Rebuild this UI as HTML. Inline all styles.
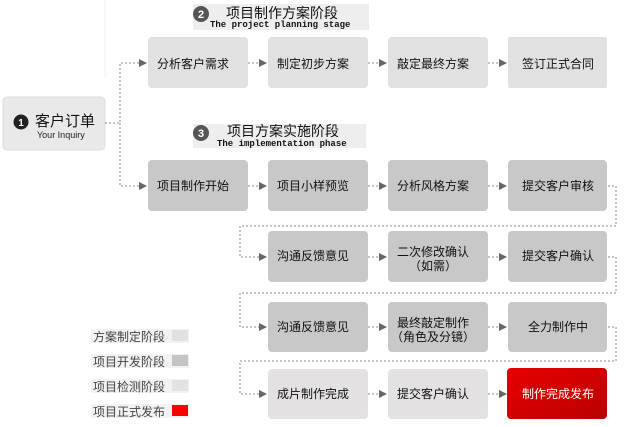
<!DOCTYPE html>
<html><head><meta charset="utf-8"><style>
html,body{margin:0;padding:0;background:#fff;width:627px;height:427px;overflow:hidden}
svg text{font-family:"Liberation Sans","Noto Sans CJK SC",sans-serif}
.m{font-family:"Liberation Mono",monospace}
</style></head><body>
<svg width="627" height="427" viewBox="0 0 627 427" xmlns="http://www.w3.org/2000/svg">
<defs>
<linearGradient id="r" x1="0" x2="1" y1="0" y2="1"><stop offset="0" stop-color="#e80000"/><stop offset="1" stop-color="#bb0000"/></linearGradient>
<marker id="a" markerWidth="8" markerHeight="8" refX="7" refY="4" orient="auto" markerUnits="userSpaceOnUse"><path d="M0,0 L8,4 L0,8z" fill="#666"/></marker>
</defs>
<line x1="105" y1="0" x2="105" y2="78" stroke="#f0f0f0"/>
<!-- titles -->
<rect x="193" y="4" width="176" height="26" fill="#eeeeee"/>
<circle cx="201" cy="14" r="8" fill="#555"/><text x="201" y="18" font-size="11" fill="#fff" text-anchor="middle" font-weight="bold">2</text>
<text x="226" y="18" font-size="14" fill="#111">项目制作方案阶段</text>
<text x="210" y="27" font-size="9" class="m" fill="#111" font-weight="bold">The project planning stage</text>
<rect x="193" y="124" width="173" height="24" fill="#eeeeee"/>
<circle cx="201" cy="133" r="8" fill="#555"/><text x="201" y="137" font-size="11" fill="#fff" text-anchor="middle" font-weight="bold">3</text>
<text x="227" y="136" font-size="14" fill="#111">项目方案实施阶段</text>
<text x="217" y="146" font-size="9" class="m" fill="#111" font-weight="bold">The implementation phase</text>
<!-- inquiry -->
<rect x="3" y="97" width="102" height="53" rx="4" fill="#e9e9e9" stroke="#ddd"/>
<circle cx="21" cy="122" r="7.5" fill="#222"/><text x="21" y="126" font-size="10" fill="#fff" text-anchor="middle" font-weight="bold">1</text>
<text x="35" y="126" font-size="15" fill="#111">客户订单</text>
<text x="37" y="138" font-size="9" fill="#222">Your Inquiry</text>
<!-- connectors -->
<g stroke="#888" stroke-dasharray="2,2" fill="none" stroke-width="1">
<path d="M105,123 H120 V63 H146" marker-end="url(#a)"/>
<path d="M120,123 V186 H146" marker-end="url(#a)"/>
<path d="M248,63 H266" marker-end="url(#a)"/><path d="M368,63 H386" marker-end="url(#a)"/><path d="M488,63 H506" marker-end="url(#a)"/>
<path d="M248,186 H266" marker-end="url(#a)"/><path d="M368,186 H386" marker-end="url(#a)"/><path d="M488,186 H506" marker-end="url(#a)"/>
<path d="M608,186 H616 V226 H240 V257 H266" marker-end="url(#a)"/>
<path d="M368,257 H386" marker-end="url(#a)"/><path d="M488,257 H506" marker-end="url(#a)"/>
<path d="M608,257 H616 V293 H240 V327 H266" marker-end="url(#a)"/>
<path d="M368,327 H386" marker-end="url(#a)"/><path d="M488,327 H506" marker-end="url(#a)"/>
<path d="M608,327 H616 V361 H240 V394 H266" marker-end="url(#a)"/>
<path d="M368,394 H386" marker-end="url(#a)"/><path d="M488,394 H506" marker-end="url(#a)"/>
</g>
<!-- row1 -->
<g fill="#e1e1e1">
<rect x="148" y="37" width="100" height="51" rx="4"/><rect x="268" y="37" width="100" height="51" rx="4"/>
<rect x="388" y="37" width="100" height="51" rx="4"/><rect x="508" y="37" width="99" height="51" rx="2"/>
</g>
<g fill="#c8c8c8">
<rect x="148" y="160" width="100" height="51" rx="4"/><rect x="268" y="160" width="100" height="51" rx="4"/>
<rect x="388" y="160" width="100" height="51" rx="4"/><rect x="508" y="160" width="99" height="51" rx="4"/>
<rect x="268" y="231" width="100" height="51" rx="4"/><rect x="388" y="231" width="100" height="51" rx="4"/><rect x="508" y="231" width="99" height="51" rx="4"/>
<rect x="268" y="302" width="100" height="50" rx="4"/><rect x="388" y="302" width="100" height="50" rx="4"/><rect x="508" y="302" width="99" height="50" rx="4"/>
</g>
<g fill="#e3e1e1">
<rect x="268" y="369" width="100" height="50" rx="4"/><rect x="388" y="369" width="100" height="50" rx="4"/>
</g>
<rect x="507" y="368" width="100" height="51" rx="4" fill="url(#r)"/>
<g font-size="12" fill="#111" text-anchor="middle">
<text x="193" y="68">分析客户需求</text><text x="313" y="68">制定初步方案</text><text x="433" y="68">敲定最终方案</text><text x="558" y="68">签订正式合同</text>
<text x="193" y="190">项目制作开始</text><text x="313" y="190">项目小样预览</text><text x="433" y="190">分析风格方案</text><text x="558" y="190">提交客户审核</text>
<text x="313" y="260">沟通反馈意见</text><text x="433" y="256">二次修改确认</text><text x="433" y="270">（如需）</text><text x="558" y="260">提交客户确认</text>
<text x="313" y="331">沟通反馈意见</text><text x="433" y="327">最终敲定制作</text><text x="433" y="341">（角色及分镜）</text><text x="558" y="331">全力制作中</text>
<text x="313" y="398">成片制作完成</text><text x="433" y="398">提交客户确认</text><text x="558" y="398" fill="#fff">制作完成发布</text>
</g>
<!-- legend -->
<g font-size="12" fill="#444">
<rect x="91" y="329" width="98" height="14" fill="#f2f2f2"/><text x="93" y="341">方案制定阶段</text><rect x="172" y="330" width="16" height="11" fill="#e1e1e1"/>
<rect x="91" y="354" width="98" height="14" fill="#f2f2f2"/><text x="93" y="366">项目开发阶段</text><rect x="172" y="355" width="16" height="11" fill="#c4c4c4"/>
<rect x="91" y="379" width="98" height="14" fill="#f2f2f2"/><text x="93" y="391">项目检测阶段</text><rect x="172" y="380" width="16" height="11" fill="#e3e1e1"/>
<rect x="91" y="404" width="98" height="14" fill="#f2f2f2"/><text x="93" y="416">项目正式发布</text><rect x="172" y="405" width="16" height="11" fill="#f00"/>
</g>
</svg>
</body></html>
